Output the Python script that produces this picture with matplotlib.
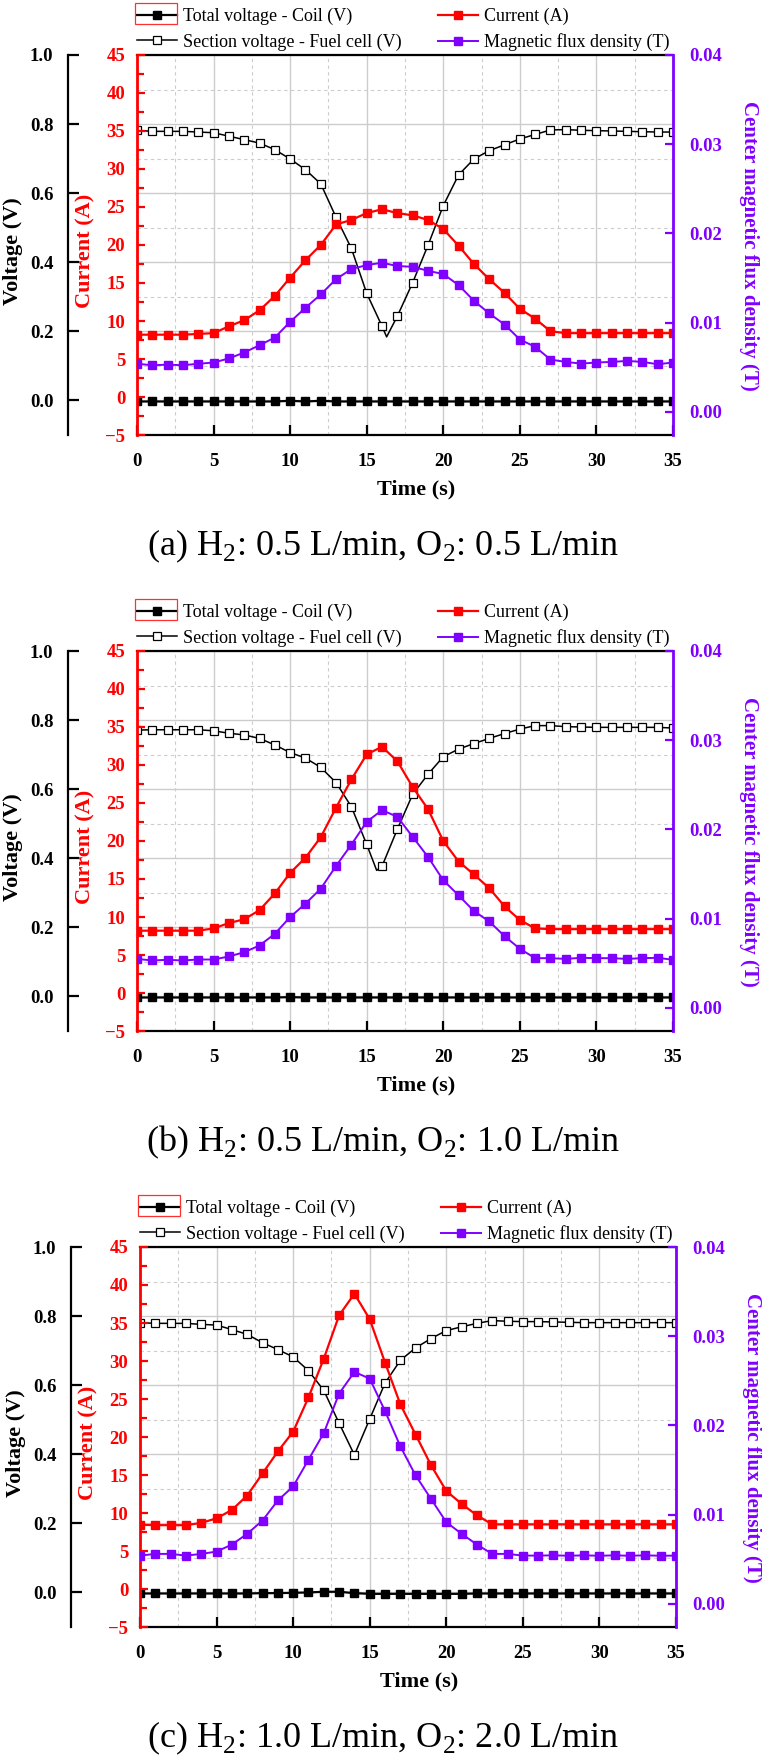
import matplotlib.pyplot as plt
from matplotlib.ticker import MultipleLocator, FormatStrFormatter
from matplotlib.patches import Rectangle

plt.rcParams['font.family'] = ['Liberation Serif', 'DejaVu Serif']
plt.rcParams['font.weight'] = 'bold'
plt.rcParams['mathtext.fontset'] = 'custom'
plt.rcParams['mathtext.rm'] = 'Liberation Serif'

# time axis (s), one marker per second
time = list(range(36))

# (a) H2: 0.5 L/min, O2: 0.5 L/min
coil_a = [-0.003, -0.003, -0.003, -0.003, -0.003, -0.003, -0.003, -0.003, -0.003, -0.003,
          -0.001, -0.003, -0.001, -0.003, -0.003, -0.003, -0.003, -0.003, -0.003, -0.003,
          -0.003, -0.003, -0.003, -0.003, -0.003, -0.003, -0.003, -0.003, -0.003, -0.003,
          -0.003, -0.003, -0.003, -0.003, -0.003, -0.003]
sec_t_a = list(range(17)) + [16.3] + list(range(17, 36))
sec_a = [0.782, 0.779, 0.779, 0.779, 0.777, 0.775, 0.765, 0.755, 0.745, 0.726,
         0.699, 0.668, 0.627, 0.530, 0.440, 0.310, 0.215, 0.184,
         0.244, 0.341, 0.449, 0.564, 0.653, 0.699, 0.723, 0.740, 0.757, 0.770,
         0.783, 0.784, 0.782, 0.781, 0.780, 0.779, 0.778, 0.777, 0.777]
cur_a = [8.2, 8.2, 8.2, 8.2, 8.3, 8.4, 9.3, 10.1, 11.4, 13.3,
         15.7, 18.0, 20.0, 22.7, 23.3, 24.2, 24.7, 24.2, 23.9, 23.3,
         22.1, 19.9, 17.5, 15.5, 13.7, 11.6, 10.3, 8.65, 8.4, 8.4,
         8.4, 8.4, 8.4, 8.4, 8.4, 8.4]
flux_a = [0.0054, 0.00524, 0.0053, 0.00524, 0.0054, 0.00554, 0.0060, 0.00666, 0.00748, 0.00834,
          0.0101, 0.01167, 0.01317, 0.01489, 0.01601, 0.01646, 0.01672, 0.01635, 0.01627, 0.01582,
          0.01545, 0.01422, 0.01246, 0.01104, 0.0098, 0.00812, 0.0073, 0.00587, 0.00561, 0.00542,
          0.00554, 0.00561, 0.00572, 0.00561, 0.00535, 0.00554]

# (b) H2: 0.5 L/min, O2: 1.0 L/min
coil_b = [-0.003, -0.003, -0.003, -0.003, -0.003, -0.003, -0.003, -0.003, -0.003, -0.003,
          -0.002, -0.003, -0.003, -0.003, -0.003, -0.003, -0.003, -0.003, -0.003, -0.003,
          -0.003, -0.003, -0.003, -0.003, -0.003, -0.003, -0.003, -0.003, -0.003, -0.003,
          -0.003, -0.003, -0.003, -0.003, -0.003, -0.003]
sec_t_b = list(range(16)) + [15.65] + list(range(16, 36))
sec_b = [0.771, 0.772, 0.772, 0.772, 0.772, 0.769, 0.762, 0.757, 0.747, 0.728,
         0.706, 0.690, 0.663, 0.619, 0.549, 0.440, 0.365,
         0.377, 0.484, 0.585, 0.643, 0.694, 0.716, 0.732, 0.747, 0.761, 0.774,
         0.784, 0.784, 0.781, 0.780, 0.779, 0.779, 0.779, 0.779, 0.779, 0.777]
cur_b = [8.2, 8.2, 8.2, 8.2, 8.2, 8.5, 9.2, 9.7, 10.9, 13.1,
         15.8, 17.8, 20.5, 24.4, 28.1, 31.4, 32.4, 30.5, 27.1, 24.2,
         20.0, 17.3, 15.6, 13.8, 11.4, 9.6, 8.5, 8.4, 8.4, 8.4,
         8.4, 8.4, 8.4, 8.4, 8.4, 8.4]
flux_b = [0.0055, 0.00532, 0.0054, 0.00532, 0.00543, 0.00543, 0.00577, 0.00625, 0.0070, 0.00831,
          0.01019, 0.01169, 0.01337, 0.01592, 0.01831, 0.02086, 0.02217, 0.02142, 0.01918, 0.01693,
          0.01431, 0.01262, 0.01086, 0.0097, 0.00805, 0.00663, 0.00558, 0.00558, 0.0055, 0.00562,
          0.00558, 0.00558, 0.0055, 0.00558, 0.00562, 0.0054]

# (c) H2: 1.0 L/min, O2: 2.0 L/min
coil_c = [-0.003, -0.003, -0.003, -0.003, -0.003, -0.003, -0.003, -0.003, -0.002, -0.002,
          -0.001, 0.000, 0.002, 0.002, -0.002, -0.004, -0.004, -0.004, -0.004, -0.004,
          -0.004, -0.004, -0.003, -0.003, -0.003, -0.003, -0.003, -0.003, -0.003, -0.003,
          -0.003, -0.003, -0.003, -0.003, -0.003, -0.003]
sec_t_c = list(range(36))
sec_c = [0.781, 0.779, 0.779, 0.779, 0.776, 0.774, 0.761, 0.747, 0.723, 0.703,
         0.682, 0.642, 0.585, 0.490, 0.398, 0.502, 0.606, 0.672, 0.708, 0.735,
         0.758, 0.769, 0.779, 0.787, 0.785, 0.784, 0.784, 0.783, 0.782, 0.781,
         0.781, 0.781, 0.781, 0.781, 0.781, 0.781]
cur_c = [8.46, 8.4, 8.4, 8.4, 8.7, 9.3, 10.4, 12.3, 15.2, 18.1,
         20.7, 25.2, 30.3, 36.0, 38.85, 35.5, 29.8, 24.3, 20.3, 16.3,
         12.9, 11.2, 9.7, 8.5, 8.5, 8.5, 8.5, 8.5, 8.5, 8.5,
         8.5, 8.5, 8.5, 8.5, 8.5, 8.5]
flux_c = [0.00542, 0.00561, 0.00561, 0.00542, 0.00561, 0.00587, 0.00666, 0.00786, 0.00935, 0.0116,
          0.01317, 0.01616, 0.01915, 0.02357, 0.0260, 0.02525, 0.02162, 0.01766, 0.0144, 0.01178,
          0.00917, 0.00786, 0.00666, 0.00561, 0.00561, 0.00542, 0.00542, 0.00545, 0.0054, 0.00545,
          0.0054, 0.00545, 0.0054, 0.00545, 0.0054, 0.00542]

captions = [r'(a) H$_\mathregular{2}$: 0.5 L/min, O$_\mathregular{2}$: 0.5 L/min',
            r'(b) H$_\mathregular{2}$: 0.5 L/min, O$_\mathregular{2}$: 1.0 L/min',
            r'(c) H$_\mathregular{2}$: 1.0 L/min, O$_\mathregular{2}$: 2.0 L/min']

RED = '#ff0000'
PURPLE = '#8000ff'
GRID = '#cccccc'
W, H = 762, 1763
PW, PH = 536, 380
TICK = 13.5
LAB = 16

fig = plt.figure(figsize=(W / 100, H / 100), dpi=100)


def ftext(x, y, s, **kw):
    return fig.text(x / W, 1 - y / H, s, **kw)


def panel(top, left, coil, sec_t, sec_v, cur, flux, cap):
    ax = fig.add_axes([left / W, 1 - (top + PH) / H, PW / W, PH / H])
    ai = ax.twinx()
    ab = ax.twinx()

    # voltage axis (offset to the left, carries the grid)
    ax.set_xlim(0, 35)
    ax.set_ylim(-0.1, 1.0)
    ax.spines['left'].set_position(('outward', 69 * 0.72))
    ax.spines['right'].set_visible(False)
    for s in ['left', 'top', 'bottom']:
        ax.spines[s].set_linewidth(1.6)
    ax.set_yticks([0, 0.2, 0.4, 0.6, 0.8, 1.0])
    ax.yaxis.set_major_formatter(FormatStrFormatter('%.1f'))
    ax.yaxis.set_minor_locator(MultipleLocator(0.1))
    ax.xaxis.set_major_locator(MultipleLocator(5))
    ax.xaxis.set_minor_locator(MultipleLocator(2.5))
    ax.tick_params(axis='y', which='major', direction='in', length=8, width=1.6,
                   labelsize=TICK, pad=10.5)
    ax.tick_params(axis='x', which='major', direction='in', length=7, width=1.6,
                   labelsize=TICK, pad=13, top=False)
    ax.tick_params(which='minor', length=0)
    ax.grid(which='major', color=GRID, lw=1.0, ls='-')
    ax.grid(which='minor', color=GRID, lw=0.8, ls=(0, (3, 3)))
    ax.set_axisbelow(True)

    # current axis on the plot's left edge
    ai.set_ylim(-5, 45)
    ai.yaxis.tick_left()
    ai.yaxis.set_major_locator(MultipleLocator(5))
    ai.yaxis.set_minor_locator(MultipleLocator(2.5))
    for s in ['right', 'top', 'bottom']:
        ai.spines[s].set_visible(False)
    ai.spines['left'].set_color(RED)
    ai.spines['left'].set_linewidth(2.0)
    ai.tick_params(axis='y', which='major', direction='in', length=6, width=1.6,
                   color=RED, labelcolor=RED, labelsize=TICK, pad=8.5)
    ai.tick_params(axis='y', which='minor', direction='in', length=5, width=1.6, color=RED)

    # magnetic flux density axis on the right
    ab.set_ylim(-0.00258, 0.04)
    ab.set_yticks([0.0, 0.01, 0.02, 0.03, 0.04])
    ab.yaxis.set_major_formatter(FormatStrFormatter('%.2f'))
    for s in ['left', 'top', 'bottom']:
        ab.spines[s].set_visible(False)
    ab.spines['right'].set_color(PURPLE)
    ab.spines['right'].set_linewidth(2.0)
    ab.tick_params(axis='y', which='major', direction='in', length=6, width=1.6,
                   color=PURPLE, labelcolor=PURPLE, labelsize=TICK, pad=12)

    mk = [i for i, t in enumerate(sec_t) if t == int(t)]
    h1, = ax.plot(time, coil, '-s', color='black', lw=1.6, ms=5.5,
                  label='Total voltage - Coil (V)')
    h2, = ax.plot(sec_t, sec_v, '-s', color='black', lw=1.1, ms=5.5, mfc='white',
                  mec='black', mew=0.9, markevery=mk,
                  label='Section voltage - Fuel cell (V)')
    h3, = ai.plot(time, cur, '-s', color=RED, lw=1.6, ms=6, label='Current (A)')
    h4, = ab.plot(time, flux, '-s', color=PURPLE, lw=1.4, ms=6,
                  label='Magnetic flux density (T)')

    ab.legend(handles=[h1, h2, h3, h4], ncol=2, loc='lower left',
              bbox_to_anchor=(0, 1.01), borderaxespad=0, borderpad=0,
              frameon=False, handlelength=2.2, handletextpad=0.35,
              columnspacing=2.0, labelspacing=0.45,
              prop={'family': 'Liberation Serif', 'weight': 'normal', 'size': 13})
    fig.add_artist(Rectangle(((left - 2) / W, 1 - (top - 31) / H), 42 / W, 21 / H,
                             transform=fig.transFigure, fill=False,
                             ec='#ff3030', lw=0.9))

    ftext(left - 124, top + 196, 'Voltage (V)', rotation=90, ha='center',
          va='center', fontsize=LAB, fontweight='bold')
    ftext(left - 52, top + 196, 'Current (A)', rotation=90, ha='center',
          va='center', fontsize=LAB, fontweight='bold', color=RED)
    ftext(left + 612, top + 191, 'Center magnetic flux density (T)', rotation=-90,
          ha='center', va='center', fontsize=15, fontweight='bold', color=PURPLE)
    ftext(left + 279, top + 434, 'Time (s)', ha='center', va='center',
          fontsize=LAB, fontweight='bold')
    ftext(383, top + 491, cap, ha='center', va='center', fontsize=26,
          fontweight='normal')


panel(55, 137, coil_a, sec_t_a, sec_a, cur_a, flux_a, captions[0])
panel(651, 137, coil_b, sec_t_b, sec_b, cur_b, flux_b, captions[1])
panel(1247, 140, coil_c, sec_t_c, sec_c, cur_c, flux_c, captions[2])

fig.savefig('out.png', dpi=100)
